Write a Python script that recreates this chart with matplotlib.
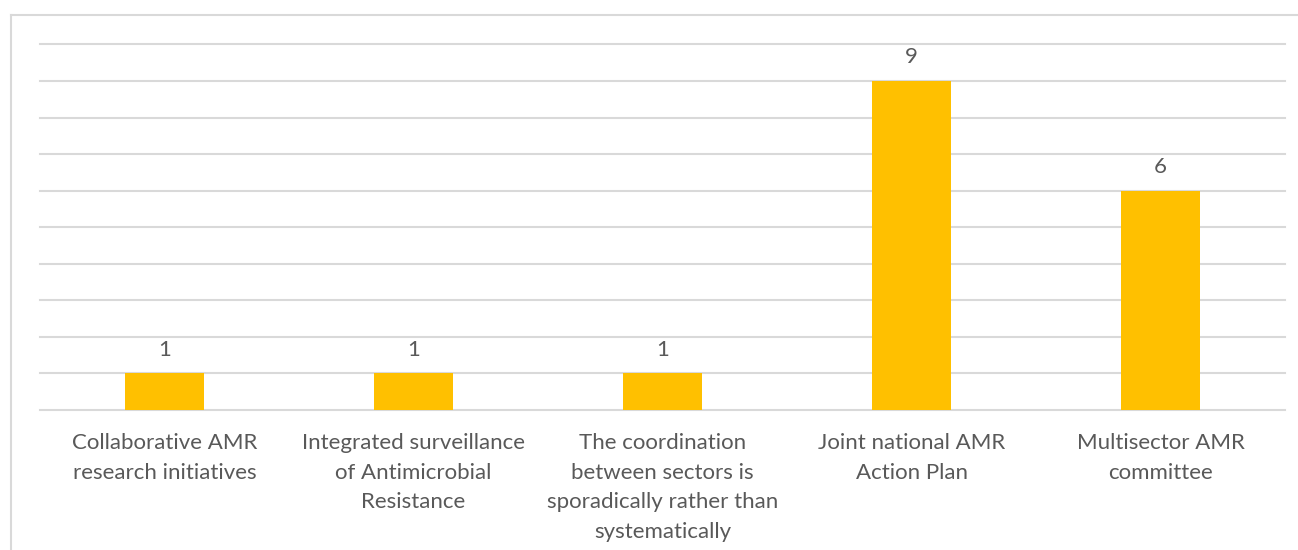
import matplotlib
matplotlib.use("Agg")
import matplotlib.pyplot as plt
from matplotlib.lines import Line2D

categories = [
    "Collaborative AMR\nresearch initiatives",
    "Integrated surveillance\nof Antimicrobial\nResistance",
    "The coordination\nbetween sectors is\nsporadically rather than\nsystematically",
    "Joint national AMR\nAction Plan",
    "Multisector AMR\ncommittee",
]
values = [1, 1, 1, 9, 6]

plt.rcParams["font.family"] = ["Lato", "DejaVu Sans"]
TEXT = "#595959"
GRID = "#d9d9d9"
BAR = "#FFC000"

W, H = 1298, 550
fig = plt.figure(figsize=(W / 100, H / 100), dpi=100)
fig.patch.set_facecolor("white")

# chart-area frame (left and top edges)
fig.add_artist(Line2D([11 / W, 11 / W], [0, 1 - 15 / H], transform=fig.transFigure,
                      color=GRID, lw=1.5))
fig.add_artist(Line2D([11 / W, 1], [1 - 15 / H, 1 - 15 / H], transform=fig.transFigure,
                      color=GRID, lw=1.5))

left, right = 40 / W, 1285 / W
bottom, top = 1 - 410 / H, 1 - 44.5 / H
ax = fig.add_axes([left, bottom, right - left, top - bottom])

x = list(range(len(categories)))
bars = ax.bar(x, values, width=0.317, color=BAR, zorder=3)
ax.set_xlim(-0.5, len(categories) - 0.5)
ax.set_ylim(0, 10)
ax.set_yticks(range(0, 11))
ax.yaxis.grid(True, color=GRID, lw=1.5, zorder=0)
for gl in ax.get_ygridlines():
    gl.set_clip_on(False)
ax.tick_params(axis="y", length=0, labelleft=False)
ax.set_xticks(x)
ax.set_xticklabels(categories, fontsize=16, color=TEXT, linespacing=1.6)
ax.tick_params(axis="x", length=0, pad=16.5)
for s in ax.spines.values():
    s.set_visible(False)

for b, v in zip(bars, values):
    ax.annotate(str(v), (b.get_x() + b.get_width() / 2, v), xytext=(0, 17),
                textcoords="offset points", ha="center", va="center",
                fontsize=16, color=TEXT)

fig.savefig("out.png", dpi=100)
